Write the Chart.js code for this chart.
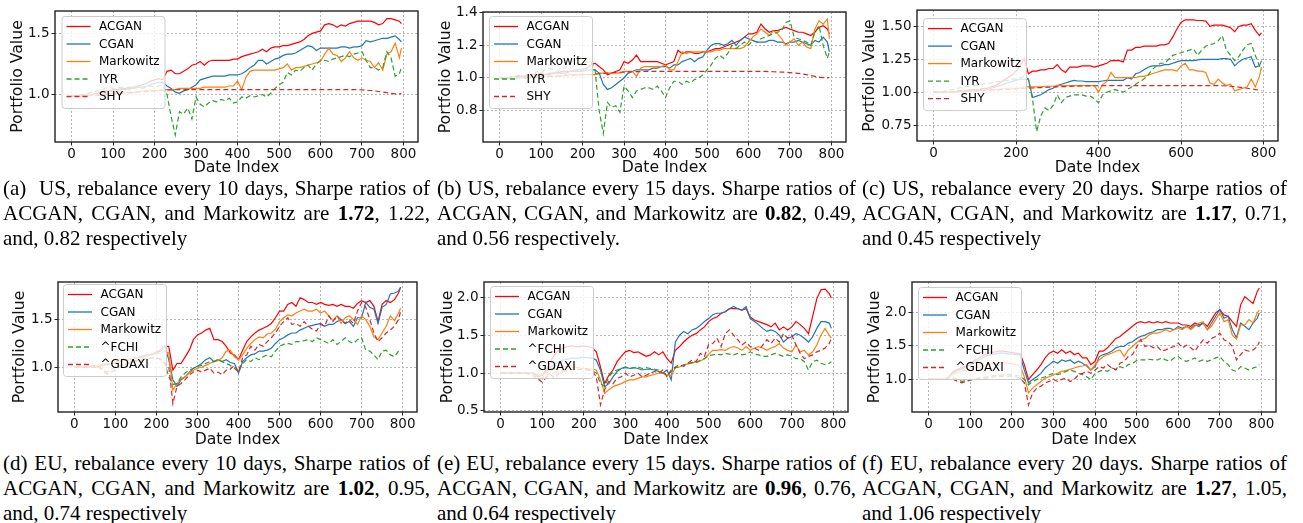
<!DOCTYPE html>
<html>
<head>
<meta charset="utf-8">
<script src="https://cdn.jsdelivr.net/npm/chart.js@4.4.1/dist/chart.umd.min.js"></script>
<style>
  body { margin: 0; background: #fff; width: 1303px; height: 523px; overflow: hidden; position: relative; }
  .panel { position: absolute; }
  .cap { position: absolute; font-family: "Liberation Serif", "Times New Roman", serif; font-size: 21px; line-height: 25px; color: #000; }
  .cap .j { text-align: justify; text-align-last: justify; white-space: nowrap; }
  .cap .l { text-align: left; white-space: nowrap; }
</style>
</head>
<body>

<div class="panel" style="left:0;top:0;width:430px;height:180px"><canvas id="chartA"></canvas></div>
<div class="panel" style="left:430px;top:0;width:430px;height:180px"><canvas id="chartB"></canvas></div>
<div class="panel" style="left:860px;top:0;width:443px;height:180px"><canvas id="chartC"></canvas></div>
<div class="panel" style="left:0;top:270px;width:430px;height:180px"><canvas id="chartD"></canvas></div>
<div class="panel" style="left:430px;top:270px;width:430px;height:180px"><canvas id="chartE"></canvas></div>
<div class="panel" style="left:860px;top:270px;width:443px;height:180px"><canvas id="chartF"></canvas></div>

<div class="cap" style="left:3px;top:176px;width:427px">
  <div class="j">(a) &nbsp;US, rebalance every 10 days, Sharpe ratios of</div>
  <div class="j">ACGAN, CGAN, and Markowitz are <b>1.72</b>, 1.22,</div>
  <div class="l">and, 0.82 respectively</div>
</div>
<div class="cap" style="left:437px;top:176px;width:419px">
  <div class="j">(b) US, rebalance every 15 days. Sharpe ratios of</div>
  <div class="j">ACGAN, CGAN, and Markowitz are <b>0.82</b>, 0.49,</div>
  <div class="l">and 0.56 respectively.</div>
</div>
<div class="cap" style="left:862px;top:176px;width:425px">
  <div class="j">(c) US, rebalance every 20 days. Sharpe ratios of</div>
  <div class="j">ACGAN, CGAN, and Markowitz are <b>1.17</b>, 0.71,</div>
  <div class="l">and 0.45 respectively</div>
</div>
<div class="cap" style="left:3px;top:451px;width:427px">
  <div class="j">(d) EU, rebalance every 10 days, Sharpe ratios of</div>
  <div class="j">ACGAN, CGAN, and Markowitz are <b>1.02</b>, 0.95,</div>
  <div class="l">and, 0.74 respectively</div>
</div>
<div class="cap" style="left:437px;top:451px;width:419px">
  <div class="j">(e) EU, rebalance every 15 days. Sharpe ratios of</div>
  <div class="j">ACGAN, CGAN, and Markowitz are <b>0.96</b>, 0.76,</div>
  <div class="l">and 0.64 respectively</div>
</div>
<div class="cap" style="left:862px;top:451px;width:425px">
  <div class="j">(f) EU, rebalance every 20 days. Sharpe ratios of</div>
  <div class="j">ACGAN, CGAN, and Markowitz are <b>1.27</b>, 1.05,</div>
  <div class="l">and 1.06 respectively</div>
</div>

<script>
// date index (x) shared by all panels
const dateIdx = [0,10,20,30,40,50,60,70,80,90,100,110,120,130,140,150,160,170,180,190,
  200,210,220,230,240,250,260,270,280,290,300,310,320,330,340,350,360,370,380,390,
  400,410,420,430,440,450,460,470,480,490,500,510,520,530,540,550,560,570,580,590,
  600,610,620,630,640,650,660,670,680,690,700,710,720,730,740,750,760,770,780,790,795];

const xTicksFine = [0,100,200,300,400,500,600,700,800];
const xTicksCoarse = [0,200,400,600,800];

// series names
const usNames = ['ACGAN','CGAN','Markowitz','IYR','SHY'];
const euNames = ['ACGAN','CGAN','Markowitz','^FCHI','^GDAXI'];

// (a) US, rebalance every 10 days
const aAcgan = [0.99,0.99,0.99,0.99,1.00,1.00,1.01,1.02,1.03,1.03,
  1.04,1.04,1.05,1.05,1.06,1.06,1.07,1.08,1.09,1.11,
  1.12,1.13,1.12,1.19,1.20,1.17,1.17,1.19,1.21,1.24,
  1.25,1.27,1.24,1.27,1.28,1.28,1.28,1.28,1.28,1.29,
  1.29,1.31,1.32,1.33,1.34,1.35,1.37,1.35,1.38,1.39,
  1.39,1.40,1.40,1.41,1.42,1.43,1.45,1.48,1.50,1.51,
  1.52,1.57,1.58,1.57,1.55,1.57,1.56,1.58,1.59,1.60,
  1.60,1.60,1.60,1.59,1.57,1.58,1.62,1.62,1.61,1.60,1.58];
const aCgan = [0.99,0.99,0.99,0.99,1.00,1.00,1.01,1.01,1.02,1.02,
  1.03,1.03,1.04,1.04,1.05,1.05,1.06,1.06,1.07,1.08,
  1.09,1.10,1.10,1.07,1.05,1.02,1.01,1.03,1.04,1.06,
  1.08,1.12,1.13,1.14,1.15,1.15,1.15,1.15,1.16,1.16,
  1.16,1.17,1.19,1.22,1.24,1.28,1.28,1.25,1.27,1.29,
  1.30,1.32,1.33,1.33,1.34,1.36,1.38,1.40,1.39,1.36,
  1.38,1.38,1.38,1.38,1.38,1.39,1.39,1.38,1.39,1.39,
  1.40,1.44,1.43,1.44,1.45,1.46,1.46,1.47,1.48,1.45,1.43];
const aMark = [0.99,0.99,0.99,0.99,1.00,1.00,1.00,1.00,1.01,1.01,
  1.01,1.01,1.02,1.02,1.02,1.02,1.02,1.03,1.03,1.03,
  1.03,1.03,1.04,1.04,1.04,1.04,1.05,1.05,1.05,1.05,
  1.05,1.05,1.06,1.06,1.06,1.06,1.06,1.06,1.07,1.07,
  1.11,1.04,1.14,1.19,1.20,1.20,1.20,1.20,1.20,1.20,
  1.21,1.22,1.25,1.20,1.22,1.22,1.23,1.24,1.25,1.26,
  1.27,1.33,1.38,1.33,1.32,1.27,1.30,1.35,1.30,1.28,
  1.30,1.28,1.27,1.22,1.26,1.20,1.33,1.35,1.42,1.30,1.38];
const aIyr = [0.99,0.99,1.00,1.00,1.01,1.02,1.03,1.04,1.05,1.06,
  1.05,1.05,1.06,1.05,1.04,1.05,1.06,1.05,1.06,1.07,
  1.06,1.07,1.08,1.00,0.82,0.67,0.86,0.84,0.89,0.80,
  0.98,0.92,0.90,0.93,0.95,0.94,0.96,0.95,0.97,0.93,
  0.94,0.98,0.97,0.99,0.98,0.99,1.00,0.98,1.01,1.05,
  1.08,1.10,1.18,1.16,1.20,1.19,1.22,1.24,1.20,1.25,
  1.28,1.28,1.27,1.29,1.30,1.31,1.32,1.31,1.33,1.34,
  1.35,1.28,1.22,1.22,1.20,1.22,1.35,1.30,1.15,1.17,1.22];
const aShy = [0.985,0.985,0.986,0.988,0.990,0.992,0.995,0.998,1.000,1.003,
  1.005,1.008,1.010,1.012,1.015,1.017,1.020,1.022,1.025,1.027,
  1.030,1.032,1.035,1.037,1.038,1.039,1.040,1.040,1.040,1.040,
  1.040,1.040,1.040,1.040,1.040,1.040,1.040,1.040,1.040,1.040,
  1.040,1.040,1.040,1.040,1.040,1.040,1.040,1.040,1.040,1.040,
  1.040,1.040,1.040,1.040,1.040,1.040,1.040,1.040,1.040,1.040,
  1.040,1.040,1.040,1.040,1.040,1.040,1.040,1.040,1.040,1.040,
  1.038,1.036,1.033,1.030,1.025,1.020,1.015,1.010,1.005,1.005,1.008];

// (b) US, rebalance every 15 days
const bAcgan = [1.00,1.00,1.00,1.00,1.01,1.01,1.01,1.02,1.02,1.02,
  1.03,1.02,1.03,1.03,1.03,1.04,1.04,1.04,1.05,1.05,
  1.05,1.06,1.08,1.09,1.07,1.05,1.02,1.03,1.04,1.05,
  1.10,1.09,1.11,1.14,1.10,1.10,1.10,1.10,1.10,1.09,
  1.08,1.09,1.10,1.17,1.15,1.16,1.16,1.15,1.15,1.16,
  1.16,1.17,1.18,1.18,1.19,1.20,1.21,1.22,1.23,1.25,
  1.27,1.27,1.28,1.33,1.30,1.28,1.29,1.29,1.30,1.31,
  1.30,1.29,1.28,1.28,1.27,1.26,1.28,1.31,1.32,1.30,1.27];
const bCgan = [1.00,1.00,1.00,1.00,1.00,1.01,1.01,1.01,1.01,1.02,
  1.02,1.02,1.02,1.03,1.03,1.03,1.03,1.04,1.04,1.04,
  1.04,1.05,1.05,1.05,1.03,0.96,0.93,0.94,0.96,0.98,
  1.00,1.03,1.04,1.05,1.05,1.05,1.05,1.06,1.06,1.07,
  1.07,1.06,1.08,1.08,1.10,1.11,1.12,1.10,1.12,1.13,
  1.17,1.20,1.21,1.21,1.20,1.21,1.23,1.20,1.23,1.25,
  1.24,1.23,1.22,1.22,1.22,1.23,1.23,1.22,1.22,1.21,
  1.22,1.22,1.23,1.22,1.21,1.20,1.23,1.22,1.25,1.22,1.16];
const bMark = [1.00,1.00,1.00,1.00,1.00,1.00,1.00,1.01,1.01,1.01,
  1.01,1.01,1.01,1.01,1.01,1.01,1.02,1.02,1.02,1.02,
  1.02,1.02,1.02,1.02,1.03,1.03,1.03,1.03,1.03,1.03,
  1.04,1.04,1.04,1.01,1.06,1.07,1.07,1.07,1.07,1.07,
  1.08,1.05,1.05,1.10,1.16,1.15,1.16,1.16,1.16,1.16,
  1.16,1.16,1.17,1.17,1.18,1.18,1.18,1.18,1.18,1.19,
  1.22,1.25,1.27,1.30,1.28,1.26,1.29,1.27,1.24,1.20,
  1.22,1.24,1.20,1.22,1.19,1.18,1.30,1.35,1.33,1.36,1.24];
const bIyr = [1.00,1.00,1.00,1.01,1.01,1.02,1.00,0.99,1.02,1.04,
  1.03,1.05,1.06,1.05,1.04,1.06,1.07,1.06,1.08,1.09,
  1.08,1.10,1.10,1.05,0.80,0.66,0.85,0.82,0.83,0.79,
  0.95,0.92,0.88,0.92,0.93,0.94,0.94,0.93,0.95,0.92,
  0.88,0.94,0.98,0.98,0.96,0.98,0.97,0.99,1.00,1.02,
  1.05,1.08,1.12,1.14,1.12,1.15,1.20,1.18,1.20,1.22,
  1.20,1.23,1.22,1.24,1.25,1.26,1.27,1.28,1.29,1.34,
  1.35,1.25,1.24,1.23,1.22,1.20,1.28,1.32,1.20,1.12,1.16];
const bShy = [0.998,0.999,1.000,1.001,1.002,1.003,1.004,1.005,1.006,1.007,
  1.008,1.009,1.010,1.011,1.012,1.013,1.014,1.015,1.016,1.018,
  1.020,1.021,1.022,1.024,1.026,1.028,1.030,1.032,1.034,1.035,
  1.036,1.037,1.038,1.039,1.039,1.040,1.040,1.040,1.040,1.040,
  1.040,1.040,1.040,1.040,1.040,1.040,1.040,1.040,1.040,1.040,
  1.040,1.040,1.040,1.040,1.040,1.040,1.040,1.040,1.040,1.040,
  1.040,1.040,1.040,1.040,1.040,1.039,1.038,1.037,1.036,1.035,
  1.033,1.031,1.028,1.025,1.020,1.015,1.010,1.005,1.002,1.001,1.003];

// (c) US, rebalance every 20 days
const cAcgan = [1.00,1.00,1.00,1.00,1.00,1.00,1.01,1.01,1.01,1.02,
  1.02,1.02,1.03,1.03,1.04,1.05,1.07,1.09,1.11,1.13,
  1.16,1.20,1.25,1.14,1.16,1.16,1.17,1.17,1.18,1.18,
  1.21,1.17,1.15,1.19,1.19,1.19,1.20,1.20,1.20,1.19,
  1.20,1.21,1.22,1.24,1.24,1.24,1.23,1.32,1.32,1.34,
  1.34,1.35,1.35,1.35,1.35,1.36,1.36,1.37,1.42,1.48,
  1.53,1.55,1.55,1.55,1.545,1.545,1.54,1.50,1.51,1.51,
  1.51,1.50,1.49,1.46,1.50,1.51,1.51,1.52,1.47,1.43,1.45];
const cCgan = [1.00,1.00,1.00,1.00,1.00,1.00,1.01,1.01,1.01,1.01,
  1.02,1.02,1.02,1.03,1.03,1.04,1.05,1.06,1.07,1.08,
  1.09,1.10,1.10,1.10,0.96,0.97,0.98,1.00,1.02,1.03,
  1.05,1.06,1.07,1.08,1.09,1.085,1.085,1.08,1.08,1.08,
  1.08,1.085,1.09,1.09,1.09,1.09,1.09,1.11,1.10,1.14,
  1.15,1.17,1.19,1.20,1.20,1.20,1.21,1.21,1.22,1.23,
  1.24,1.24,1.24,1.24,1.245,1.25,1.25,1.25,1.25,1.25,
  1.255,1.255,1.25,1.20,1.23,1.25,1.26,1.27,1.19,1.20,1.24];
const cMark = [1.00,1.00,1.00,1.00,1.00,1.00,1.00,1.01,1.01,1.01,
  1.01,1.01,1.02,1.02,1.02,1.02,1.02,1.03,1.03,1.03,
  1.03,1.03,1.04,1.04,1.04,1.04,1.04,1.045,1.045,1.045,
  1.05,1.05,1.05,1.05,1.05,1.05,1.05,1.05,1.05,1.05,
  1.00,1.06,1.08,1.15,1.11,1.11,1.11,1.11,1.11,1.11,
  1.12,1.12,1.13,1.14,1.15,1.16,1.17,1.17,1.17,1.16,
  1.20,1.22,1.17,1.17,1.16,1.16,1.15,1.07,1.06,1.10,
  1.07,1.05,1.06,1.01,1.02,1.03,1.04,1.10,1.04,1.12,1.19];
const cIyr = [1.00,1.00,1.00,1.01,1.02,1.02,1.03,1.04,1.04,1.05,
  1.05,1.06,1.06,1.07,1.07,1.08,1.08,1.09,1.09,1.10,
  1.10,1.11,1.12,1.10,0.95,0.70,0.82,0.88,0.86,0.90,
  0.98,0.92,0.96,0.97,0.98,0.98,0.98,0.97,0.97,0.95,
  0.92,0.98,1.00,1.01,1.02,1.01,1.00,1.02,1.04,1.06,
  1.08,1.10,1.13,1.17,1.20,1.22,1.22,1.25,1.28,1.29,
  1.30,1.31,1.32,1.33,1.28,1.32,1.35,1.36,1.37,1.39,
  1.43,1.32,1.28,1.24,1.27,1.32,1.36,1.37,1.28,1.20,1.17];
const cShy = [1.000,1.001,1.002,1.003,1.004,1.005,1.006,1.007,1.008,1.010,
  1.011,1.012,1.014,1.015,1.016,1.018,1.019,1.020,1.022,1.023,
  1.025,1.027,1.028,1.030,1.032,1.034,1.035,1.037,1.038,1.040,
  1.041,1.042,1.043,1.044,1.045,1.046,1.047,1.048,1.048,1.049,
  1.050,1.050,1.050,1.050,1.050,1.050,1.050,1.050,1.050,1.050,
  1.050,1.050,1.050,1.050,1.050,1.050,1.050,1.050,1.050,1.050,
  1.050,1.050,1.050,1.050,1.050,1.050,1.050,1.050,1.050,1.050,
  1.049,1.047,1.045,1.042,1.038,1.034,1.030,1.025,1.020,1.015,1.012];

// (d) EU, rebalance every 10 days
const dAcgan = [1.00,1.00,1.00,1.00,1.00,1.00,1.01,1.02,1.03,1.04,
  1.05,1.06,1.07,1.08,1.09,1.10,1.11,1.12,1.13,1.14,
  1.16,1.18,1.22,1.22,0.97,1.04,1.04,1.11,1.18,1.29,
  1.34,1.36,1.39,1.41,1.29,1.29,1.27,1.22,1.15,1.13,
  1.08,1.18,1.27,1.32,1.36,1.39,1.41,1.43,1.46,1.52,
  1.59,1.59,1.66,1.68,1.64,1.73,1.71,1.68,1.68,1.66,
  1.68,1.66,1.65,1.66,1.64,1.66,1.64,1.64,1.62,1.67,
  1.70,1.68,1.70,1.64,1.48,1.66,1.70,1.68,1.71,1.78,1.84];
const dCgan = [1.00,1.00,1.00,1.00,1.00,1.01,1.02,1.03,1.04,1.04,
  1.05,1.06,1.07,1.08,1.09,1.10,1.11,1.12,1.13,1.14,
  1.15,1.17,1.22,1.08,0.87,0.80,0.87,0.90,0.95,0.99,
  1.01,1.04,1.08,1.10,1.06,1.08,1.06,1.08,1.05,1.04,
  0.94,1.06,1.10,1.13,1.14,1.17,1.17,1.18,1.20,1.25,
  1.29,1.31,1.34,1.36,1.36,1.39,1.41,1.43,1.44,1.45,
  1.46,1.43,1.45,1.45,1.48,1.50,1.46,1.48,1.43,1.52,
  1.52,1.68,1.63,1.61,1.46,1.63,1.66,1.77,1.78,1.80,1.84];
const dMark = [1.00,1.00,1.00,1.00,1.00,1.01,1.02,1.03,1.04,1.04,
  1.05,1.06,1.07,1.08,1.09,1.10,1.10,1.11,1.12,1.13,
  1.14,1.15,1.17,1.15,0.76,0.83,0.88,0.90,0.94,0.97,
  0.99,1.00,1.02,1.04,1.06,1.07,1.10,1.17,1.18,1.11,
  1.08,1.13,1.20,1.25,1.29,1.32,1.31,1.35,1.36,1.40,
  1.48,1.52,1.55,1.54,1.57,1.59,1.61,1.59,1.59,1.61,
  1.57,1.59,1.54,1.49,1.54,1.46,1.52,1.54,1.50,1.45,
  1.54,1.50,1.43,1.32,1.29,1.36,1.43,1.54,1.49,1.57,1.62];
const dFchi = [1.00,1.00,1.00,1.00,1.01,1.02,1.01,0.97,0.95,0.98,
  1.00,1.02,1.04,1.05,1.06,1.07,1.08,1.09,1.10,1.10,
  1.10,1.09,1.05,0.90,0.82,0.83,0.90,0.94,0.97,0.99,
  1.01,1.02,1.04,1.06,1.06,1.08,1.06,1.04,1.02,0.99,
  0.95,1.04,1.08,1.06,1.10,1.08,1.11,1.13,1.11,1.17,
  1.22,1.24,1.25,1.24,1.27,1.27,1.28,1.29,1.27,1.31,
  1.29,1.27,1.25,1.29,1.24,1.27,1.31,1.27,1.25,1.29,
  1.31,1.18,1.17,1.13,1.08,1.17,1.18,1.13,1.11,1.17,1.18];
const dGdaxi = [1.00,1.00,1.00,1.00,1.01,1.02,1.00,0.96,0.93,0.95,
  0.98,1.00,1.02,1.04,1.05,1.06,1.07,1.08,1.09,1.10,
  1.10,1.08,1.04,1.01,0.62,0.80,0.83,0.87,0.92,0.95,
  0.97,0.95,0.97,0.99,0.94,0.95,0.92,0.97,0.98,1.02,
  0.95,1.10,1.13,1.22,1.18,1.24,1.22,1.27,1.31,1.36,
  1.43,1.48,1.52,1.45,1.46,1.43,1.48,1.43,1.40,1.38,
  1.45,1.43,1.54,1.48,1.54,1.50,1.46,1.50,1.46,1.59,
  1.68,1.63,1.50,1.36,1.27,1.31,1.36,1.39,1.43,1.50,1.59];

// (e) EU, rebalance every 15 days
const eAcgan = [1.00,1.00,1.00,1.00,1.00,1.00,1.00,1.00,1.00,0.95,
  0.97,1.05,1.15,1.25,1.30,1.33,1.35,1.36,1.35,1.35,
  1.36,1.35,1.33,1.28,1.08,0.86,0.97,1.04,1.15,1.22,
  1.28,1.30,1.27,1.28,1.25,1.22,1.24,1.28,1.24,1.28,
  1.19,1.13,1.30,1.35,1.41,1.46,1.50,1.52,1.57,1.61,
  1.68,1.72,1.74,1.79,1.81,1.85,1.85,1.85,1.83,1.85,
  1.74,1.70,1.68,1.66,1.64,1.61,1.66,1.57,1.61,1.57,
  1.61,1.68,1.64,1.59,1.52,1.75,1.98,2.10,2.11,2.05,1.99];
const eCgan = [1.00,1.00,1.00,1.00,1.00,1.00,1.00,1.00,1.00,0.96,
  0.97,1.02,1.08,1.12,1.15,1.17,1.18,1.20,1.19,1.20,
  1.21,1.20,1.20,1.17,1.04,0.82,0.86,0.95,1.02,1.06,
  1.08,1.06,1.07,1.06,1.04,1.05,1.05,1.04,1.02,1.00,
  1.04,0.91,1.41,1.50,1.55,1.52,1.57,1.59,1.63,1.68,
  1.72,1.77,1.79,1.79,1.81,1.85,1.88,1.85,1.83,1.88,
  1.72,1.68,1.64,1.59,1.55,1.57,1.55,1.50,1.41,1.46,
  1.48,1.52,1.50,1.46,1.41,1.48,1.59,1.68,1.68,1.66,1.59];
const eMark = [1.00,1.00,1.00,1.00,1.00,1.00,1.00,1.00,1.00,0.97,
  0.98,1.00,1.03,1.05,1.07,1.08,1.09,1.10,1.08,1.07,
  1.06,1.06,1.05,1.04,0.91,0.73,0.78,0.82,0.84,0.86,
  0.89,0.91,0.91,0.93,0.95,0.95,0.97,0.98,1.00,1.00,
  0.97,0.97,1.07,1.08,1.11,1.12,1.13,1.15,1.16,1.19,
  1.25,1.30,1.30,1.31,1.30,1.33,1.35,1.33,1.30,1.35,
  1.30,1.33,1.35,1.33,1.30,1.33,1.35,1.39,1.33,1.30,
  1.28,1.37,1.28,1.30,1.24,1.28,1.37,1.50,1.59,1.50,1.46];
const eFchi = [1.00,1.00,1.00,1.00,1.00,1.00,1.00,0.98,0.95,0.92,
  0.93,0.97,1.00,1.01,1.02,1.03,1.04,1.04,1.05,1.05,
  1.04,1.04,1.03,1.00,0.86,0.82,0.95,1.02,1.04,1.06,
  1.07,1.06,1.07,1.08,1.06,1.07,1.06,1.05,1.04,1.00,
  0.97,1.02,1.07,1.08,1.11,1.12,1.14,1.13,1.17,1.19,
  1.23,1.24,1.25,1.24,1.26,1.25,1.24,1.26,1.24,1.25,
  1.28,1.25,1.24,1.22,1.22,1.24,1.26,1.24,1.22,1.24,
  1.22,1.19,1.19,1.15,1.04,1.15,1.17,1.13,1.11,1.13,1.15];
const eGdaxi = [1.00,1.00,1.00,1.00,1.00,1.00,1.00,0.99,0.98,0.92,
  0.88,0.95,0.98,0.93,1.00,1.02,1.03,1.05,1.04,1.05,
  1.06,1.05,1.03,0.95,0.58,0.78,0.89,0.86,0.93,0.95,
  1.00,0.95,0.97,1.00,0.95,0.97,1.00,1.02,1.00,1.04,
  0.95,1.04,1.08,1.11,1.09,1.13,1.17,1.15,1.26,1.22,
  1.38,1.39,1.46,1.35,1.52,1.57,1.50,1.44,1.37,1.41,
  1.35,1.33,1.30,1.37,1.44,1.39,1.46,1.41,1.52,1.46,
  1.50,1.37,1.26,1.19,1.22,1.24,1.28,1.30,1.33,1.39,1.46];

// (f) EU, rebalance every 20 days
const fAcgan = [1.00,1.00,1.00,1.00,1.00,1.05,1.12,1.15,1.18,1.20,
  1.25,1.28,1.32,1.35,1.38,1.40,1.41,1.42,1.42,1.41,
  1.40,1.39,1.38,1.22,1.00,1.07,1.14,1.22,1.32,1.39,
  1.42,1.39,1.44,1.39,1.42,1.37,1.39,1.32,1.32,1.22,
  1.27,1.42,1.42,1.47,1.54,1.61,1.64,1.69,1.74,1.79,
  1.84,1.86,1.84,1.86,1.84,1.86,1.84,1.86,1.84,1.84,
  1.84,1.81,1.81,1.79,1.84,1.81,1.84,1.79,1.89,1.99,
  2.04,1.96,1.94,1.86,1.79,2.11,2.23,2.18,2.13,2.31,2.36];
const fCgan = [1.00,1.00,1.00,1.00,1.00,1.04,1.10,1.13,1.16,1.18,
  1.22,1.25,1.29,1.32,1.35,1.37,1.38,1.39,1.39,1.38,
  1.38,1.37,1.36,1.14,0.95,1.00,1.04,1.09,1.17,1.22,
  1.27,1.24,1.29,1.27,1.29,1.24,1.27,1.24,1.20,1.14,
  1.19,1.34,1.37,1.39,1.42,1.47,1.49,1.49,1.54,1.56,
  1.61,1.64,1.66,1.69,1.71,1.74,1.74,1.76,1.76,1.74,
  1.79,1.76,1.79,1.76,1.81,1.79,1.84,1.74,1.84,1.94,
  2.04,1.91,1.94,1.74,1.62,1.84,1.79,1.74,1.84,1.91,1.99];
const fMark = [1.00,1.00,1.00,1.00,1.00,1.04,1.08,1.10,1.12,1.14,
  1.15,1.17,1.18,1.20,1.22,1.23,1.24,1.25,1.25,1.24,
  1.23,1.22,1.20,1.04,0.80,0.87,0.92,0.97,1.02,1.04,
  1.07,1.09,1.12,1.13,1.15,1.17,1.19,1.20,1.22,1.14,
  1.22,1.29,1.34,1.37,1.39,1.42,1.44,1.34,1.44,1.49,
  1.55,1.59,1.61,1.66,1.69,1.69,1.71,1.74,1.71,1.74,
  1.76,1.74,1.79,1.74,1.79,1.84,1.86,1.74,1.79,1.89,
  1.99,1.86,1.89,1.66,1.60,1.81,1.81,1.89,1.84,1.99,2.03];
const fFchi = [1.00,1.00,1.00,1.00,1.00,1.01,1.02,1.00,0.97,0.98,
  1.00,1.01,1.02,1.03,1.04,1.05,1.06,1.06,1.07,1.07,
  1.08,1.06,1.05,1.00,0.92,0.97,1.00,1.02,1.04,1.07,
  1.09,1.07,1.09,1.12,1.14,1.12,1.09,1.07,1.04,1.00,
  1.09,1.12,1.14,1.12,1.17,1.15,1.19,1.17,1.22,1.24,
  1.28,1.29,1.29,1.30,1.29,1.29,1.32,1.29,1.27,1.32,
  1.34,1.29,1.27,1.29,1.32,1.27,1.29,1.27,1.29,1.32,
  1.34,1.27,1.22,1.14,1.12,1.19,1.17,1.14,1.17,1.19,1.22];
const fGdaxi = [1.00,1.00,1.00,1.00,1.00,1.01,1.00,0.97,0.95,0.97,
  0.99,1.00,1.01,1.02,1.02,1.03,1.04,1.04,1.05,1.05,
  1.05,1.04,1.02,0.95,0.62,0.80,0.87,0.90,0.95,0.97,
  1.00,0.97,1.00,1.02,0.97,1.00,1.07,1.09,1.12,1.09,
  1.14,1.19,1.17,1.22,1.17,1.14,1.24,1.27,1.34,1.37,
  1.48,1.59,1.49,1.51,1.47,1.49,1.42,1.44,1.47,1.49,
  1.54,1.47,1.51,1.47,1.42,1.51,1.59,1.54,1.61,1.64,
  1.69,1.59,1.56,1.49,1.29,1.37,1.44,1.42,1.44,1.49,1.56];

// line styles per series slot
const lineColors = ['#ff0000', '#1f77b4', '#ff7f0e', '#2ca02c', '#d62728'];
const lineDashes = [[], [], [], [5, 3], [5, 3]];

Chart.defaults.font.family = '"DejaVu Sans", sans-serif';
Chart.defaults.color = '#111';
Chart.defaults.animation = false;

// draws matplotlib-like legend box and axes frame
const mplDecor = {
  id: 'mplDecor',
  afterDatasetsDraw(chart, args, opts) {
    const { ctx, chartArea: a } = chart;
    const bx = a.left + opts.dx, by = a.top + opts.dy;
    ctx.save();
    ctx.fillStyle = 'rgba(255,255,255,0.8)';
    ctx.strokeStyle = '#cccccc';
    ctx.lineWidth = 1;
    ctx.beginPath();
    ctx.roundRect(bx + 0.5, by + 0.5, 103, 92, 3);
    ctx.fill();
    ctx.stroke();
    ctx.font = '12px "DejaVu Sans"';
    ctx.textBaseline = 'middle';
    chart.data.datasets.forEach((ds, i) => {
      const y = by + 10.5 + i * 17.5;
      ctx.strokeStyle = ds.borderColor;
      ctx.lineWidth = 1.3;
      ctx.setLineDash(ds.borderDash || []);
      ctx.beginPath();
      ctx.moveTo(bx + 5, y);
      ctx.lineTo(bx + 29, y);
      ctx.stroke();
      ctx.setLineDash([]);
      ctx.fillStyle = '#000';
      ctx.fillText(ds.label, bx + 37.5, y + 0.5);
    });
    ctx.strokeStyle = '#222';
    ctx.lineWidth = 1.4;
    ctx.strokeRect(a.left, a.top, a.right - a.left, a.bottom - a.top);
    ctx.restore();
  }
};

function buildChart(id, p) {
  const datasets = p.series.map((vals, i) => ({
    label: p.names[i],
    data: dateIdx.map((x, k) => ({ x: x, y: vals[k] })),
    borderColor: lineColors[i],
    borderDash: lineDashes[i],
    borderWidth: 1.2,
    pointRadius: 0,
    tension: 0,
    fill: false,
    order: p.series.length - 1 - i
  }));

  new Chart(document.getElementById(id), {
    type: 'line',
    data: { datasets: datasets },
    plugins: [mplDecor],
    options: {
      responsive: true,
      maintainAspectRatio: false,
      layout: { padding: { top: p.pad[1], right: p.pad[2], left: 0, bottom: 0 } },
      plugins: {
        legend: { display: false },
        tooltip: { enabled: false },
        mplDecor: { dx: p.leg[0], dy: p.leg[1] }
      },
      scales: {
        x: {
          type: 'linear',
          min: -40,
          max: 835,
          afterBuildTicks: s => { s.ticks = p.xTicks.map(v => ({ value: v })); },
          afterFit: s => { s.height = p.pad[3]; },
          ticks: { font: { size: 13.5 }, padding: 1, maxRotation: 0, color: '#111' },
          grid: { color: '#b5b5b5', lineWidth: 1, tickColor: '#222', tickLength: 3.5 },
          border: { display: false, dash: [2, 2] },
          title: { display: true, text: 'Date Index', font: { size: 15.7 }, color: '#111', padding: { top: 0, bottom: p.xTitlePad } }
        },
        y: {
          type: 'linear',
          min: p.yMin,
          max: p.yMax,
          afterBuildTicks: s => { s.ticks = p.yTicks.map(v => ({ value: v })); },
          afterFit: s => { s.width = p.pad[0]; },
          ticks: { font: { size: 13.5 }, padding: 2, color: '#111', callback: v => v.toFixed(p.yDec) },
          grid: { color: '#b5b5b5', lineWidth: 1, tickColor: '#222', tickLength: 3.5 },
          border: { display: false, dash: [2, 2] },
          title: { display: true, text: 'Portfolio Value', font: { size: 15.7 }, color: '#111', padding: { top: p.yTitlePad, bottom: 0 } }
        }
      }
    }
  });
}

// pad = [y-axis width, top, right, x-axis height]
buildChart('chartA', { names: usNames, series: [aAcgan, aCgan, aMark, aIyr, aShy],
  yMin: 0.612, yMax: 1.683, yTicks: [1.0, 1.5], yDec: 1, xTicks: xTicksFine,
  pad: [55, 11, 12, 38], leg: [6.5, 5], xTitlePad: 2.5, yTitlePad: 9 });
buildChart('chartB', { names: usNames, series: [bAcgan, bCgan, bMark, bIyr, bShy],
  yMin: 0.608, yMax: 1.404, yTicks: [0.8, 1.0, 1.2, 1.4], yDec: 1, xTicks: xTicksFine,
  pad: [53, 12, 14, 38], leg: [6, 4], xTitlePad: 2.5, yTitlePad: 7 });
buildChart('chartC', { names: usNames, series: [cAcgan, cCgan, cMark, cIyr, cShy],
  yMin: 0.629, yMax: 1.624, yTicks: [0.75, 1.0, 1.25, 1.5], yDec: 2, xTicks: xTicksCoarse,
  pad: [57, 7, 25, 39], leg: [6, 8], xTitlePad: 2.5, yTitlePad: 1 });
buildChart('chartD', { names: euNames, series: [dAcgan, dCgan, dMark, dFchi, dGdaxi],
  yMin: 0.531, yMax: 1.895, yTicks: [1.0, 1.5], yDec: 1, xTicks: xTicksFine,
  pad: [58, 12, 13, 38], leg: [5, 2], xTitlePad: 1, yTitlePad: 11 });
buildChart('chartE', { names: euNames, series: [eAcgan, eCgan, eMark, eFchi, eGdaxi],
  yMin: 0.485, yMax: 2.203, yTicks: [0.5, 1.0, 1.5, 2.0], yDec: 1, xTicks: xTicksFine,
  pad: [54, 12, 12, 38], leg: [6, 4], xTitlePad: 1, yTitlePad: 9 });
buildChart('chartF', { names: euNames, series: [fAcgan, fCgan, fMark, fFchi, fGdaxi],
  yMin: 0.515, yMax: 2.45, yTicks: [1.0, 1.5, 2.0], yDec: 1, xTicks: xTicksFine,
  pad: [52, 12, 27, 38], leg: [6, 5], xTitlePad: 1, yTitlePad: 6 });
</script>
</body>
</html>
